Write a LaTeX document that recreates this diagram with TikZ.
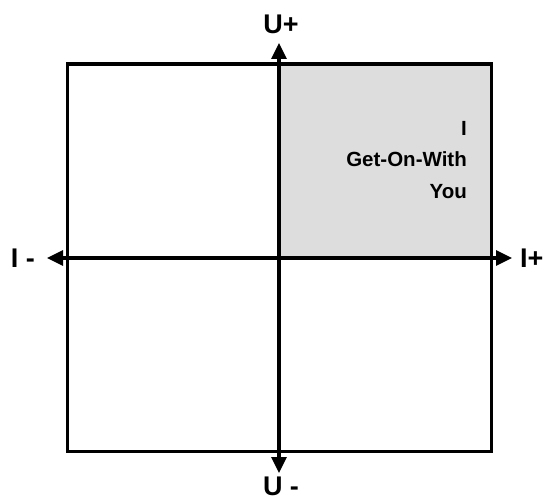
\documentclass[tikz,border=0pt]{standalone}
\usepackage{fontspec}
\setmainfont{Liberation Sans}
\usetikzlibrary{arrows.meta, positioning}
\definecolor{quadgray}{RGB}{221, 221, 221}

\begin{document}
\begin{tikzpicture}[x=1pt, y=-1pt,
            frame/.style={line width=3pt},
            axis/.style={line width=3.2pt, {Triangle[length=16pt, width=15pt]}-{Triangle[length=16pt, width=15pt]}},
            axislabel/.style={inner sep=0pt, font=\fontsize{27}{29}\selectfont\bfseries},
            quadtext/.style={inner sep=0pt, align=right, font=\fontsize{20.5}{31.5}\selectfont\bfseries}
        ]
            \useasboundingbox (0,0) rectangle (543,503);

            % shaded quadrant and frame
            \fill[quadgray] (279,64) rectangle (491,258);
            \draw[frame] (67,64) rectangle (491,451);

            % axis ends
            \coordinate (top) at (279,43);
            \coordinate (bottom) at (279,473);
            \coordinate (left) at (47,258);
            \coordinate (right) at (512,258);

            \draw[axis] (bottom) -- (top);
            \draw[axis] (left) -- (right);

            \node[axislabel, above=9pt of top, xshift=2pt] (uplus) {U+};
            \node[axislabel, below=4pt of bottom, xshift=2pt] (uminus) {U -};
            \node[axislabel, left=12pt of left] (iminus) {I -};
            \node[axislabel, right=8pt of right] (iplus) {I+};

            \node[quadtext, anchor=north east] (quad) at (467,121) {I\\Get-On-With\\You};
        \end{tikzpicture}
\end{document}
